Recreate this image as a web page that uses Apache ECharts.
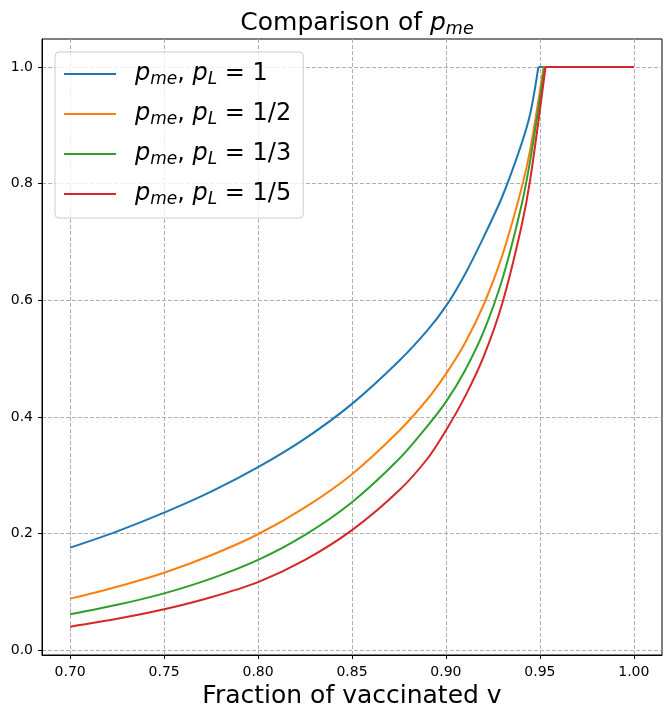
<!DOCTYPE html>
<html>
<head>
<meta charset="utf-8">
<script src="https://cdn.jsdelivr.net/npm/echarts@6/dist/echarts.min.js"></script>
<style>
html,body{margin:0;padding:0;background:#fff;}
#chart{width:671px;height:718px;}
</style>
</head>
<body>
<div id="chart"></div>
<script>
// ---- data ----
const xTicks = [0.70, 0.75, 0.80, 0.85, 0.90, 0.95, 1.00];
const yTicks = [0.0, 0.2, 0.4, 0.6, 0.8, 1.0];

// rising part of each curve (last point = where p_me reaches 1)
const vBlue   = [0.70,0.725,0.75,0.775,0.80,0.825,0.85,0.875,0.89,0.90,0.91,0.92,0.93,0.94,0.945,0.9492];
const pBlue   = [0.176,0.204,0.236,0.272,0.314,0.363,0.4225,0.496,0.548,0.59,0.644,0.708,0.778,0.866,0.922,1.0];

const vOrange = [0.70,0.725,0.75,0.775,0.80,0.825,0.85,0.875,0.89,0.90,0.91,0.92,0.93,0.94,0.945,0.952];
const pOrange = [0.0886,0.109,0.133,0.163,0.199,0.245,0.302,0.376,0.43,0.474,0.526,0.592,0.677,0.789,0.861,1.0];

const vGreen  = [0.70,0.725,0.75,0.775,0.80,0.825,0.85,0.875,0.89,0.90,0.91,0.92,0.93,0.94,0.945,0.9525];
const pGreen  = [0.0617,0.078,0.0977,0.123,0.155,0.198,0.254,0.328,0.384,0.426,0.479,0.546,0.636,0.76,0.843,1.0];

const vRed    = [0.70,0.725,0.75,0.775,0.80,0.825,0.85,0.875,0.89,0.90,0.91,0.92,0.93,0.94,0.945,0.953];
const pRed    = [0.0405,0.054,0.0703,0.091,0.117,0.155,0.206,0.274,0.328,0.377,0.434,0.503,0.595,0.724,0.81,1.0];

// flat part: p_me stays at 1 up to v = 1
const vEnd = 1.00;
const pCap = 1.0;

const seriesNames = ['pL=1', 'pL=1/2', 'pL=1/3', 'pL=1/5'];
const legendValues = ['1', '1/2', '1/3', '1/5'];
const colors = ['#1f77b4', '#ff7f0e', '#2ca02c', '#d62728'];

const FONT = 'DejaVu Sans';
const zip = (a, b) => a.map((v, i) => [v, b[i]]);
const rising = [zip(vBlue, pBlue), zip(vOrange, pOrange), zip(vGreen, pGreen), zip(vRed, pRed)];
const flat = [vBlue, vOrange, vGreen, vRed].map(v => [[v[v.length - 1], pCap], [vEnd, pCap]]);

const legendRich = {
  i: {fontFamily: FONT, fontStyle: 'italic', fontSize: 24, lineHeight: 28, color: '#000'},
  s: {fontFamily: FONT, fontStyle: 'italic', fontSize: 17, lineHeight: 16, verticalAlign: 'bottom', color: '#000'},
  n: {fontFamily: FONT, fontSize: 24, lineHeight: 28, color: '#000'}
};

const series = [];
seriesNames.forEach((n, k) => {
  series.push({
    name: n, type: 'line', data: rising[k], symbol: 'none', smooth: 0.3,
    lineStyle: {color: colors[k], width: 2}, itemStyle: {color: colors[k]}, z: 2 + k
  });
});
seriesNames.forEach((n, k) => {
  series.push({
    name: n, type: 'line', data: flat[k], symbol: 'none', smooth: false,
    lineStyle: {color: colors[k], width: 2}, itemStyle: {color: colors[k]}, z: 2 + k
  });
});

const chart = echarts.init(document.getElementById('chart'), null, {renderer: 'canvas'});
chart.setOption({
  animation: false,
  backgroundColor: '#ffffff',
  title: {
    text: 'Comparison of {i|p}{s|me}',
    left: 352,
    top: 3,
    textAlign: 'center',
    textStyle: {
      fontFamily: FONT, fontSize: 25, fontWeight: 'normal', color: '#000', lineHeight: 30,
      rich: {
        i: {fontFamily: FONT, fontStyle: 'italic', fontSize: 25, lineHeight: 30, color: '#000'},
        s: {fontFamily: FONT, fontStyle: 'italic', fontSize: 17.5, lineHeight: 17, verticalAlign: 'bottom', color: '#000'}
      }
    }
  },
  grid: {left: 42, right: 9, top: 39, bottom: 63, show: true, borderColor: '#000', borderWidth: 1, containLabel: false},
  legend: {
    orient: 'vertical',
    left: 55, top: 52,
    padding: [10, 12, 10, 8],
    itemGap: 14,
    itemWidth: 52,
    itemHeight: 14,
    backgroundColor: 'rgba(255,255,255,0.8)',
    borderColor: '#cccccc',
    borderWidth: 1,
    borderRadius: 4,
    itemStyle: {color: 'rgba(0,0,0,0)', borderColor: 'rgba(0,0,0,0)', borderWidth: 0},
    data: seriesNames,
    formatter: function (name) {
      const k = seriesNames.indexOf(name);
      return '{i|p}{s|me}{n|, }{i|p}{s|L}{n| = ' + legendValues[k] + '}';
    },
    textStyle: {fontFamily: FONT, fontSize: 24, color: '#000', padding: [0, 0, 0, 14], rich: legendRich}
  },
  xAxis: {
    type: 'value',
    min: 0.685, max: 1.015,
    name: 'Fraction of vaccinated v',
    nameLocation: 'middle',
    nameGap: 25,
    nameTextStyle: {fontFamily: FONT, fontSize: 25, color: '#000'},
    axisLine: {show: true, onZero: false, lineStyle: {color: '#000', width: 1}},
    axisTick: {show: true, inside: false, length: 4, lineStyle: {color: '#000'}, customValues: xTicks},
    axisLabel: {show: true, margin: 10, fontFamily: FONT, fontSize: 14, color: '#000', customValues: xTicks,
      formatter: v => v.toFixed(2)},
    splitLine: {show: true, lineStyle: {color: '#b0b0b0', type: [4, 2], width: 1}}
  },
  yAxis: {
    type: 'value',
    min: -0.008, max: 1.048,
    axisLine: {show: true, onZero: false, lineStyle: {color: '#000', width: 1}},
    axisTick: {show: true, inside: false, length: 4, lineStyle: {color: '#000'}, customValues: yTicks},
    axisLabel: {show: true, margin: 9, fontFamily: FONT, fontSize: 14, color: '#000', customValues: yTicks,
      formatter: v => v.toFixed(1)},
    splitLine: {show: true, lineStyle: {color: '#b0b0b0', type: [4, 2], width: 1}}
  },
  series: series
});
</script>
</body>
</html>
